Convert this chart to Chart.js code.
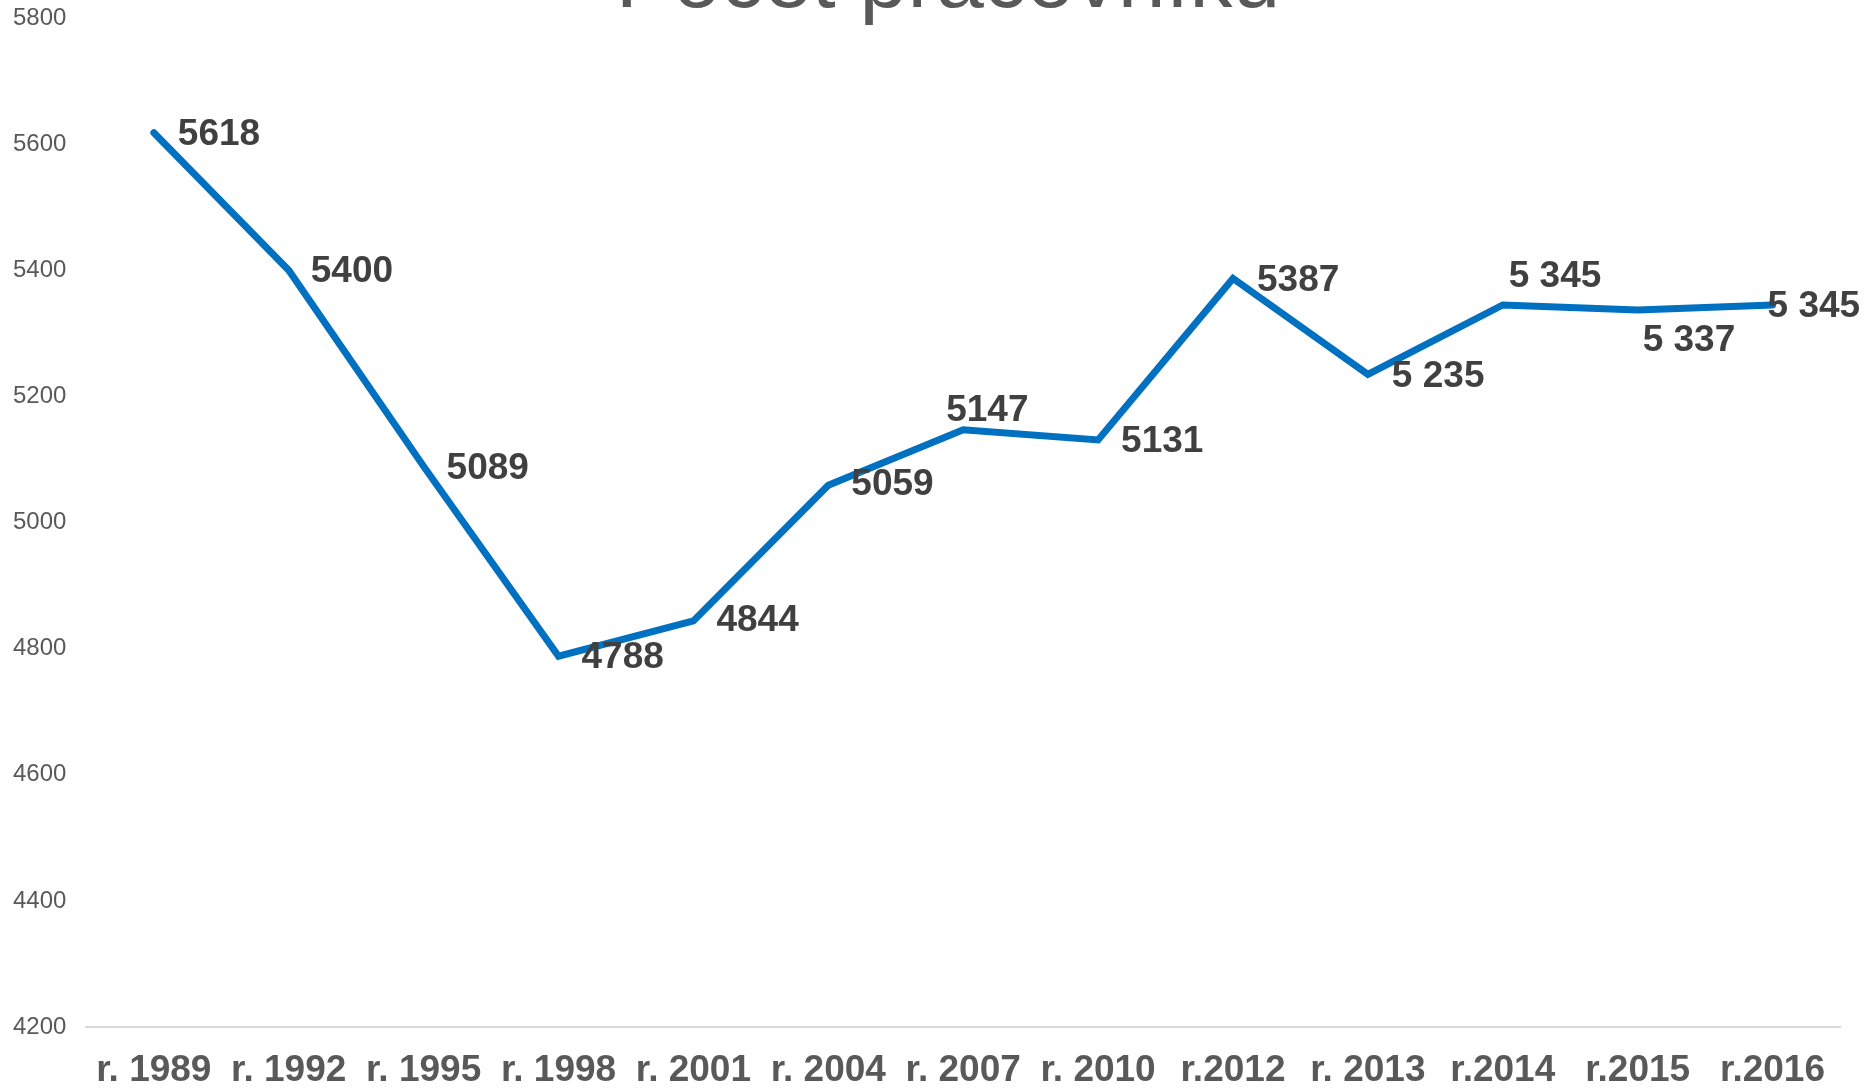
<!DOCTYPE html>
<html>
<head>
<meta charset="utf-8">
<script src="https://cdn.jsdelivr.net/npm/chart.js@4.4.0/dist/chart.umd.min.js"></script>
<style>
  body { margin: 0; background: #fff; }
  #wrap { position: relative; width: 1870px; height: 1088px; }
</style>
</head>
<body>
<div id="wrap"><canvas id="pocet-chart"></canvas></div>
<script>
const roky = ['r. 1989', 'r. 1992', 'r. 1995', 'r. 1998', 'r. 2001', 'r. 2004', 'r. 2007', 'r. 2010', 'r.2012', 'r. 2013', 'r.2014', 'r.2015', 'r.2016']
const pocet = [5618, 5400, 5089, 4788, 4844, 5059, 5147, 5131, 5387, 5235, 5345, 5337, 5345]
const popisky = ['5618', '5400', '5089', '4788', '4844', '5059', '5147', '5131', '5387', '5 235', '5 345', '5 337', '5 345']
const nazev = 'Počet pracovníků'

// posun popisku od bodu (px)
const popisek_dx = [24, 22, 23, 23, 23, 23, -17, 23, 24, 24, 6, 5, -5]
const popisek_dy = [2, 2, 2, 2, 0, 0, -19, 2, 2, 2, -28, 31, 2]

const font_family = "'Liberation Sans', Arial, sans-serif"

const titulek_plugin = {
    id: 'titulek',
    afterDraw(chart) {
        let c = chart.ctx
        c.save()
        c.font = '86px ' + font_family
        c.fillStyle = '#595959'
        c.textAlign = 'center'
        c.textBaseline = 'alphabetic'
        c.fillText(nazev, 948, 7)
        c.restore()
    }
}

const popisky_plugin = {
    id: 'popisky',
    afterDatasetsDraw(chart) {
        let c = chart.ctx
        let meta = chart.getDatasetMeta(0)
        c.save()
        c.font = 'bold 37px ' + font_family
        c.fillStyle = '#404040'
        c.textAlign = 'left'
        c.textBaseline = 'middle'
        meta.data.forEach(function (el, i) {
            c.fillText(popisky[i], el.x + popisek_dx[i], el.y + popisek_dy[i])
        })
        c.restore()
    }
}

let ctx = document.getElementById('pocet-chart')

let my_chart = new Chart(ctx, {
    type: 'line',
    data: {
        labels: roky,
        datasets: [{
            label: nazev,
            data: pocet,
            borderColor: '#0070C0',
            borderWidth: 7,
            borderCapStyle: 'round',
            borderJoinStyle: 'miter',
            pointRadius: 0,
            tension: 0,
            fill: false
        }]
    },
    options: {
        responsive: true,
        maintainAspectRatio: false,
        animation: false,
        layout: {
            padding: { top: 18, left: 13, right: 30, bottom: -26 }
        },
        plugins: {
            legend: { display: false },
            title: { display: false },
            tooltip: { enabled: false }
        },
        scales: {
            x: {
                offset: true,
                grid: { display: false, drawTicks: false },
                border: { display: true, color: '#d9d9d9', width: 2 },
                ticks: {
                    color: '#595959',
                    padding: 25,
                    maxRotation: 0,
                    autoSkip: false,
                    font: { family: font_family, size: 37, weight: 'bold', lineHeight: 1 }
                }
            },
            y: {
                min: 4200,
                max: 5800,
                grid: { display: false, drawTicks: false },
                border: { display: false },
                ticks: {
                    stepSize: 200,
                    color: '#595959',
                    padding: 10,
                    crossAlign: 'far',
                    font: { family: font_family, size: 24, lineHeight: 0.5 },
                    callback: function (value) { return String(value) }
                }
            }
        }
    },
    plugins: [titulek_plugin, popisky_plugin]
});
</script>
</body>
</html>
